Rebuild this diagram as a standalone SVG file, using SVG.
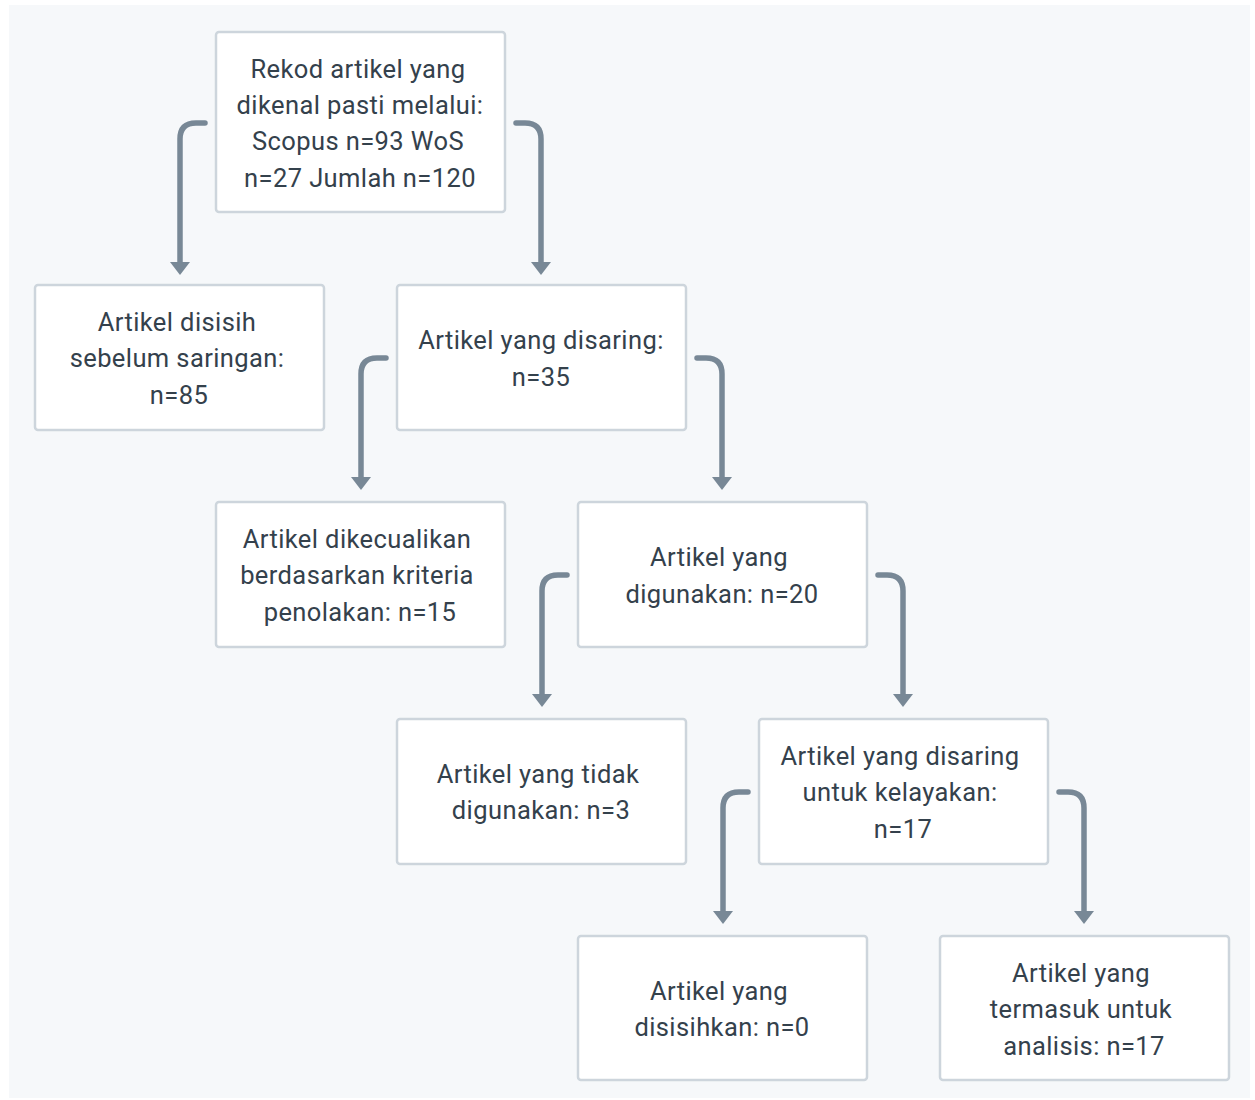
<svg xmlns="http://www.w3.org/2000/svg" width="1255" height="1100" viewBox="0 0 1255 1100">
<defs>
<style>
.box{fill:#ffffff;stroke:#cdd5dc;stroke-width:2.5}
.t{font-family:Roboto,"Liberation Sans",sans-serif;font-size:25.5px;fill:#34414c;text-anchor:middle;letter-spacing:0.4px}
.c{fill:none;stroke:#788896;stroke-width:5.5;stroke-linecap:round}
.ah{fill:#788896}
</style>
</defs>
<rect x="0" y="0" width="1255" height="1100" fill="#ffffff"/>
<rect x="9" y="5" width="1241" height="1093" fill="#f6f8fa"/>
<g id="connectors">
<path class="c" d="M205 123 H196 Q180 123 180 139 V262"/>
<polygon class="ah" points="170,262 190,262 180,275"/>
<path class="c" d="M516 123 H525 Q541 123 541 139 V262"/>
<polygon class="ah" points="531,262 551,262 541,275"/>
<path class="c" d="M386 358 H377 Q361 358 361 374 V477"/>
<polygon class="ah" points="351,477 371,477 361,490"/>
<path class="c" d="M697 358 H706 Q722 358 722 374 V477"/>
<polygon class="ah" points="712,477 732,477 722,490"/>
<path class="c" d="M567 575 H558 Q542 575 542 591 V694"/>
<polygon class="ah" points="532,694 552,694 542,707"/>
<path class="c" d="M878 575 H887 Q903 575 903 591 V694"/>
<polygon class="ah" points="893,694 913,694 903,707"/>
<path class="c" d="M748 792 H739 Q723 792 723 808 V911"/>
<polygon class="ah" points="713,911 733,911 723,924"/>
<path class="c" d="M1059 792 H1068 Q1084 792 1084 808 V911"/>
<polygon class="ah" points="1074,911 1094,911 1084,924"/>
</g>
<g id="n1"><rect class="box" x="216" y="32" width="289" height="180" rx="3"/>
<text class="t" x="358" y="78">Rekod artikel yang</text>
<text class="t" x="360" y="114">dikenal pasti melalui:</text>
<text class="t" x="358" y="150">Scopus n=93 WoS</text>
<text class="t" x="360" y="187">n=27 Jumlah n=120</text></g>
<g id="n2"><rect class="box" x="35" y="285" width="289" height="145" rx="3"/>
<text class="t" x="177" y="331">Artikel disisih</text>
<text class="t" x="177" y="367">sebelum saringan:</text>
<text class="t" x="179" y="404">n=85</text></g>
<g id="n3"><rect class="box" x="397" y="285" width="289" height="145" rx="3"/>
<text class="t" x="541" y="349">Artikel yang disaring:</text>
<text class="t" x="541" y="386">n=35</text></g>
<g id="n4"><rect class="box" x="216" y="502" width="289" height="145" rx="3"/>
<text class="t" x="357" y="548">Artikel dikecualikan</text>
<text class="t" x="357" y="584">berdasarkan kriteria</text>
<text class="t" x="360" y="621">penolakan: n=15</text></g>
<g id="n5"><rect class="box" x="578" y="502" width="289" height="145" rx="3"/>
<text class="t" x="719" y="566">Artikel yang</text>
<text class="t" x="722" y="603">digunakan: n=20</text></g>
<g id="n6"><rect class="box" x="397" y="719" width="289" height="145" rx="3"/>
<text class="t" x="538" y="783">Artikel yang tidak</text>
<text class="t" x="541" y="819">digunakan: n=3</text></g>
<g id="n7"><rect class="box" x="759" y="719" width="289" height="145" rx="3"/>
<text class="t" x="900" y="765">Artikel yang disaring</text>
<text class="t" x="900" y="801">untuk kelayakan:</text>
<text class="t" x="903" y="838">n=17</text></g>
<g id="n8"><rect class="box" x="578" y="936" width="289" height="144" rx="3"/>
<text class="t" x="719" y="1000">Artikel yang</text>
<text class="t" x="722" y="1036">disisihkan: n=0</text></g>
<g id="n9"><rect class="box" x="940" y="936" width="289" height="144" rx="3"/>
<text class="t" x="1081" y="982">Artikel yang</text>
<text class="t" x="1081" y="1018">termasuk untuk</text>
<text class="t" x="1084" y="1055">analisis: n=17</text></g>
</svg>
